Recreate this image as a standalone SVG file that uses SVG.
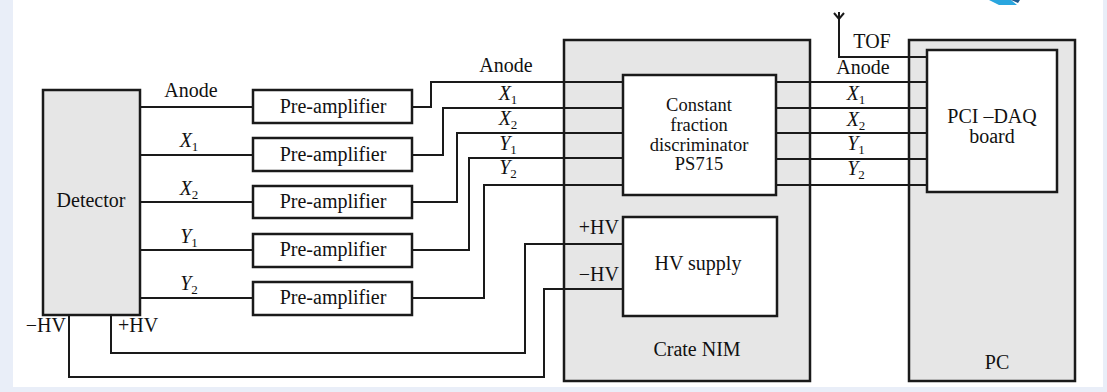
<svg xmlns="http://www.w3.org/2000/svg" width="1107" height="392" viewBox="0 0 1107 392">
<style>
.t{font-family:"Liberation Serif","Times New Roman",serif;font-size:20px;fill:#111}
.c{font-size:18.5px}
.m{text-anchor:middle}
.e{text-anchor:end}
.i{font-style:italic}
.box{stroke:#1a1a1a;stroke-width:2.5}
.gray{fill:#e6e6e6}
.white{fill:#fff}
.w{fill:none;stroke:#1a1a1a;stroke-width:2}
</style>
<rect x="0" y="0" width="1107" height="392" fill="#e9eef8"/>
<rect x="13" y="0" width="1090" height="387" fill="#fff"/>
<polygon points="989,0 1011,0 1017,5 999,5" fill="#2aa6df"/>
<polygon points="1011,0 1020,0 1018,3" fill="#1f5a8f"/>

<g id="crate-nim">
<rect class="box gray" x="564" y="40" width="246" height="341"/>
<text class="t m" x="697" y="356">Crate NIM</text>
</g>
<g id="pc">
<rect class="box gray" x="909" y="40" width="166" height="341"/>
<text class="t m" x="997" y="369">PC</text>
</g>

<g id="connectors">
<polyline class="w" points="140,107 253,107"/>
<polyline class="w" points="140,155 253,155"/>
<polyline class="w" points="140,202 253,202"/>
<polyline class="w" points="140,250 253,250"/>
<polyline class="w" points="140,298 253,298"/>
<polyline class="w" points="412,107 431,107 431,82 623,82"/>
<polyline class="w" points="412,155 443,155 443,108 623,108"/>
<polyline class="w" points="412,202 457,202 457,133 623,133"/>
<polyline class="w" points="412,250 469,250 469,158 623,158"/>
<polyline class="w" points="412,298 484,298 484,185 623,185"/>
<polyline class="w" points="776,82 927,82"/>
<polyline class="w" points="776,108 927,108"/>
<polyline class="w" points="776,133 927,133"/>
<polyline class="w" points="776,159 927,159"/>
<polyline class="w" points="776,185 927,185"/>
<polyline class="w" points="927,57 839,57 839,12"/>
<polyline class="w" points="834,13 839,19 844,13"/>
<polyline class="w" points="111,315 111,353 525,353 525,244 623,244"/>
<polyline class="w" points="69,315 69,377 544,377 544,289 623,289"/>
</g>

<g id="detector">
<rect class="box gray" x="43" y="90" width="97" height="225"/>
<text class="t m" x="91" y="207">Detector</text>
</g>

<g id="preamp-anode">
<rect class="box white" x="253" y="90" width="159" height="33"/>
<text class="t m" x="333" y="113">Pre-amplifier</text>
</g>
<g id="preamp-x1">
<rect class="box white" x="253" y="138" width="159" height="33"/>
<text class="t m" x="333" y="161">Pre-amplifier</text>
</g>
<g id="preamp-x2">
<rect class="box white" x="253" y="186" width="159" height="32"/>
<text class="t m" x="333" y="208">Pre-amplifier</text>
</g>
<g id="preamp-y1">
<rect class="box white" x="253" y="234" width="159" height="33"/>
<text class="t m" x="333" y="256">Pre-amplifier</text>
</g>
<g id="preamp-y2">
<rect class="box white" x="253" y="282" width="159" height="33"/>
<text class="t m" x="333" y="304">Pre-amplifier</text>
</g>

<g id="cfd">
<rect class="box white" x="623" y="75" width="153" height="120"/>
<text class="t c m" x="699" y="111">Constant</text>
<text class="t c m" x="699" y="131">fraction</text>
<text class="t c m" x="699" y="151">discriminator</text>
<text class="t c m" x="699" y="170">PS715</text>
</g>

<g id="hv-supply">
<rect class="box white" x="623" y="217" width="154" height="99"/>
<text class="t m" x="698" y="270">HV supply</text>
</g>

<g id="pci-daq">
<rect class="box white" x="927" y="50" width="130" height="142"/>
<text class="t m" x="992" y="123">PCI –DAQ</text>
<text class="t m" x="992" y="143">board</text>
</g>

<g id="labels">
<text class="t m" x="191" y="97">Anode</text>
<text class="t m" x="189" y="147"><tspan class="i">X</tspan><tspan font-size="13" dy="4">1</tspan></text>
<text class="t m" x="189" y="195"><tspan class="i">X</tspan><tspan font-size="13" dy="4">2</tspan></text>
<text class="t m" x="189" y="243"><tspan class="i">Y</tspan><tspan font-size="13" dy="4">1</tspan></text>
<text class="t m" x="189" y="290"><tspan class="i">Y</tspan><tspan font-size="13" dy="4">2</tspan></text>

<text class="t m" x="506" y="72">Anode</text>
<text class="t m" x="508" y="100"><tspan class="i">X</tspan><tspan font-size="13" dy="4">1</tspan></text>
<text class="t m" x="508" y="125"><tspan class="i">X</tspan><tspan font-size="13" dy="4">2</tspan></text>
<text class="t m" x="508" y="150"><tspan class="i">Y</tspan><tspan font-size="13" dy="4">1</tspan></text>
<text class="t m" x="508" y="174"><tspan class="i">Y</tspan><tspan font-size="13" dy="4">2</tspan></text>

<text class="t m" x="872" y="48">TOF</text>
<text class="t m" x="863" y="74">Anode</text>
<text class="t m" x="856" y="100"><tspan class="i">X</tspan><tspan font-size="13" dy="4">1</tspan></text>
<text class="t m" x="856" y="126"><tspan class="i">X</tspan><tspan font-size="13" dy="4">2</tspan></text>
<text class="t m" x="856" y="150"><tspan class="i">Y</tspan><tspan font-size="13" dy="4">1</tspan></text>
<text class="t m" x="856" y="175"><tspan class="i">Y</tspan><tspan font-size="13" dy="4">2</tspan></text>

<text class="t e" x="619" y="234">+HV</text>
<text class="t e" x="619" y="281">−HV</text>
<text class="t e" x="66" y="332">−HV</text>
<text class="t" x="118" y="332">+HV</text>
</g>
</svg>
